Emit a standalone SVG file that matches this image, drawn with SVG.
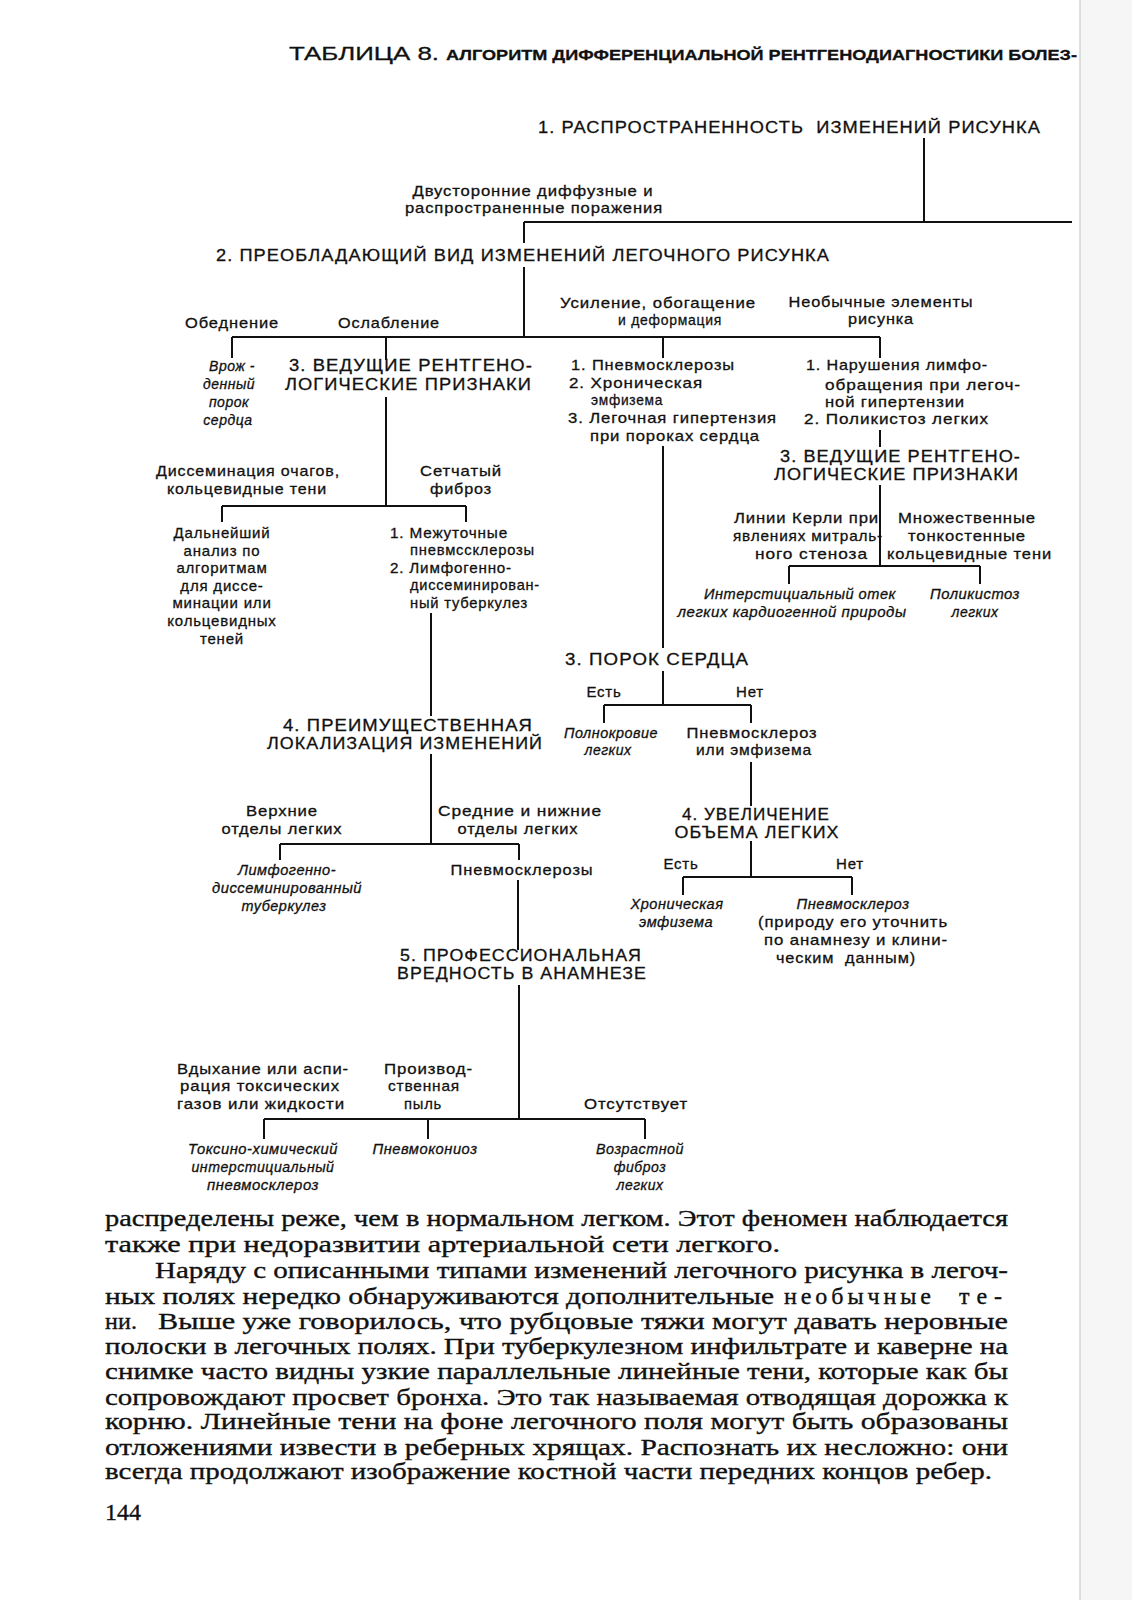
<svg xmlns="http://www.w3.org/2000/svg" width="1132" height="1600" viewBox="0 0 1132 1600">
<style>
text{font-family:"Liberation Sans",Arial,sans-serif;fill:#111;stroke:#111;stroke-width:0.3px;}
.t{font-size:15px;letter-spacing:0.8px;}
.h{font-size:17px;letter-spacing:1px;}
.i{font-size:14px;font-style:italic;letter-spacing:0.5px;}
.m{text-anchor:middle;}
.b{font-family:"Liberation Serif","Times New Roman",serif;font-size:24px;stroke-width:0.35px;}
.c{fill:none;stroke:#111;stroke-width:2;}
</style>
<rect x="0" y="0" width="1132" height="1600" fill="#fff"/>
<rect x="1080" y="0" width="52" height="1600" fill="#f6f6f6"/>
<line x1="1080" y1="0" x2="1080" y2="1600" stroke="#d4d4d4" stroke-width="1.5"/>

<g id="title">
<text x="289" y="60" style="font-size:19px" textLength="150" lengthAdjust="spacingAndGlyphs">ТАБЛИЦА 8.</text>
<text x="446" y="60" style="font-size:15.5px;font-weight:bold" textLength="631" lengthAdjust="spacingAndGlyphs">АЛГОРИТМ ДИФФЕРЕНЦИАЛЬНОЙ РЕНТГЕНОДИАГНОСТИКИ БОЛЕЗ-</text>
</g>

<g id="connectors">
<path class="c" d="M924 138V222M524 222H1072M524 222V243"/>
<path class="c" d="M524 267V337M232 337H880M232 337V358M386 337V360M663 337V358M880 337V358"/>
<path class="c" d="M880 430V447M880 485V566M789 566H980M789 566V584M980 566V584"/>
<path class="c" d="M386 397V506M222 506H466M222 506V522M466 506V522"/>
<path class="c" d="M663 446V648M663 671V705M604 705H751M604 705V723M751 705V723"/>
<path class="c" d="M751 762V806M751 841V877M683 877H852M683 877V895M852 877V895"/>
<path class="c" d="M431 613V716M431 754V844M280 844H519M280 844V860M519 844V860"/>
<path class="c" d="M518 880V950M519 985V1119M264 1119H645M264 1119V1139M428 1119V1139M645 1119V1139"/>
</g>

<g id="n1">
<text class="h" x="538" y="133" textLength="503" lengthAdjust="spacingAndGlyphs">1. РАСПРОСТРАНЕННОСТЬ&#160; ИЗМЕНЕНИЙ РИСУНКА</text>
</g>
<g id="e1">
<text class="t m" x="533" y="196" textLength="241" lengthAdjust="spacingAndGlyphs">Двусторонние диффузные и</text>
<text class="t m" x="534" y="213" textLength="258" lengthAdjust="spacingAndGlyphs">распространенные поражения</text>
</g>
<g id="n2">
<text class="h" x="216" y="261" textLength="614" lengthAdjust="spacingAndGlyphs">2. ПРЕОБЛАДАЮЩИЙ ВИД ИЗМЕНЕНИЙ ЛЕГОЧНОГО РИСУНКА</text>
</g>

<g id="e2">
<text class="t m" x="232" y="328" textLength="94" lengthAdjust="spacingAndGlyphs">Обеднение</text>
<text class="t m" x="389" y="328" textLength="102" lengthAdjust="spacingAndGlyphs">Ослабление</text>
<text class="t m" x="658" y="308" textLength="196" lengthAdjust="spacingAndGlyphs">Усиление, обогащение</text>
<text class="t m" x="670" y="325" textLength="104" lengthAdjust="spacingAndGlyphs">и деформация</text>
<text class="t m" x="881" y="307" textLength="185" lengthAdjust="spacingAndGlyphs">Необычные элементы</text>
<text class="t m" x="881" y="324" textLength="66" lengthAdjust="spacingAndGlyphs">рисунка</text>
</g>

<g id="n-vrozh">
<text class="i m" x="232" y="371">Врож -</text>
<text class="i m" x="229" y="389">денный</text>
<text class="i m" x="229" y="407">порок</text>
<text class="i m" x="228" y="425">сердца</text>
</g>

<g id="n3a">
<text class="h" x="289" y="371" textLength="244" lengthAdjust="spacingAndGlyphs">3. ВЕДУЩИЕ РЕНТГЕНО-</text>
<text class="h" x="285" y="390" textLength="247" lengthAdjust="spacingAndGlyphs">ЛОГИЧЕСКИЕ ПРИЗНАКИ</text>
</g>

<g id="n-list1">
<text class="t" x="571" y="370" textLength="164" lengthAdjust="spacingAndGlyphs">1. Пневмосклерозы</text>
<text class="t" x="569" y="388" textLength="134" lengthAdjust="spacingAndGlyphs">2. Хроническая</text>
<text class="t" x="591" y="405" textLength="72" lengthAdjust="spacingAndGlyphs">эмфизема</text>
<text class="t" x="568" y="423" textLength="209" lengthAdjust="spacingAndGlyphs">3. Легочная гипертензия</text>
<text class="t" x="590" y="441" textLength="170" lengthAdjust="spacingAndGlyphs">при пороках сердца</text>
</g>

<g id="n-list2">
<text class="t" x="806" y="370" textLength="182" lengthAdjust="spacingAndGlyphs">1. Нарушения лимфо-</text>
<text class="t" x="825" y="390" textLength="196" lengthAdjust="spacingAndGlyphs">обращения при легоч-</text>
<text class="t" x="825" y="407" textLength="140" lengthAdjust="spacingAndGlyphs">ной гипертензии</text>
<text class="t" x="804" y="424" textLength="185" lengthAdjust="spacingAndGlyphs">2. Поликистоз легких</text>
</g>

<g id="n3b">
<text class="h" x="780" y="462" textLength="241" lengthAdjust="spacingAndGlyphs">3. ВЕДУЩИЕ РЕНТГЕНО-</text>
<text class="h" x="774" y="480" textLength="245" lengthAdjust="spacingAndGlyphs">ЛОГИЧЕСКИЕ ПРИЗНАКИ</text>
</g>

<g id="e3b">
<text class="t" x="734" y="523" textLength="145" lengthAdjust="spacingAndGlyphs">Линии Керли при</text>
<text class="t" x="733" y="541" textLength="150" lengthAdjust="spacingAndGlyphs">явлениях митраль-</text>
<text class="t" x="755" y="559" textLength="113" lengthAdjust="spacingAndGlyphs">ного стеноза</text>
<text class="t" x="898" y="523" textLength="138" lengthAdjust="spacingAndGlyphs">Множественные</text>
<text class="t" x="908" y="541" textLength="118" lengthAdjust="spacingAndGlyphs">тонкостенные</text>
<text class="t" x="887" y="559" textLength="165" lengthAdjust="spacingAndGlyphs">кольцевидные тени</text>
</g>

<g id="n-edema">
<text class="i m" x="800" y="599" textLength="192" lengthAdjust="spacingAndGlyphs">Интерстициальный отек</text>
<text class="i m" x="792" y="617" textLength="229" lengthAdjust="spacingAndGlyphs">легких кардиогенной природы</text>
</g>
<g id="n-polycyst">
<text class="i m" x="975" y="599" textLength="90" lengthAdjust="spacingAndGlyphs">Поликистоз</text>
<text class="i m" x="975" y="617">легких</text>
</g>

<g id="e3a">
<text class="t m" x="248" y="476" textLength="184" lengthAdjust="spacingAndGlyphs">Диссеминация очагов,</text>
<text class="t m" x="247" y="494" textLength="160" lengthAdjust="spacingAndGlyphs">кольцевидные тени</text>
<text class="t m" x="461" y="476" textLength="82" lengthAdjust="spacingAndGlyphs">Сетчатый</text>
<text class="t m" x="461" y="494" textLength="62" lengthAdjust="spacingAndGlyphs">фиброз</text>
</g>

<g id="n-further">
<text class="t m" x="222" y="538">Дальнейший</text>
<text class="t m" x="222" y="556">анализ по</text>
<text class="t m" x="222" y="573">алгоритмам</text>
<text class="t m" x="222" y="591">для диссе-</text>
<text class="t m" x="222" y="608">минации или</text>
<text class="t m" x="222" y="626">кольцевидных</text>
<text class="t m" x="222" y="644">теней</text>
</g>

<g id="n-list3">
<text class="t" x="390" y="538" textLength="118" lengthAdjust="spacingAndGlyphs">1. Межуточные</text>
<text class="t" x="410" y="555" textLength="125" lengthAdjust="spacingAndGlyphs">пневмссклерозы</text>
<text class="t" x="390" y="573" textLength="122" lengthAdjust="spacingAndGlyphs">2. Лимфогенно-</text>
<text class="t" x="410" y="590" textLength="130" lengthAdjust="spacingAndGlyphs">диссеминирован-</text>
<text class="t" x="410" y="608" textLength="118" lengthAdjust="spacingAndGlyphs">ный туберкулез</text>
</g>

<g id="n4a">
<text class="h m" x="408" y="731" textLength="250" lengthAdjust="spacingAndGlyphs">4. ПРЕИМУЩЕСТВЕННАЯ</text>
<text class="h m" x="405" y="749" textLength="276" lengthAdjust="spacingAndGlyphs">ЛОКАЛИЗАЦИЯ ИЗМЕНЕНИЙ</text>
</g>
<g id="e4a">
<text class="t m" x="282" y="816" textLength="72" lengthAdjust="spacingAndGlyphs">Верхние</text>
<text class="t m" x="282" y="834" textLength="121" lengthAdjust="spacingAndGlyphs">отделы легких</text>
<text class="t m" x="520" y="816" textLength="164" lengthAdjust="spacingAndGlyphs">Средние и нижние</text>
<text class="t m" x="518" y="834" textLength="121" lengthAdjust="spacingAndGlyphs">отделы легких</text>
</g>
<g id="n-lymph">
<text class="i m" x="287" y="875" textLength="98" lengthAdjust="spacingAndGlyphs">Лимфогенно-</text>
<text class="i m" x="287" y="893" textLength="150" lengthAdjust="spacingAndGlyphs">диссеминированный</text>
<text class="i m" x="284" y="911" textLength="85" lengthAdjust="spacingAndGlyphs">туберкулез</text>
</g>
<g id="n-pneumo">
<text class="t m" x="522" y="875" textLength="143" lengthAdjust="spacingAndGlyphs">Пневмосклерозы</text>
</g>

<g id="n5">
<text class="h m" x="521" y="961" textLength="242" lengthAdjust="spacingAndGlyphs">5. ПРОФЕССИОНАЛЬНАЯ</text>
<text class="h m" x="522" y="979" textLength="250" lengthAdjust="spacingAndGlyphs">ВРЕДНОСТЬ В АНАМНЕЗЕ</text>
</g>
<g id="e5">
<text class="t m" x="263" y="1074" textLength="172" lengthAdjust="spacingAndGlyphs">Вдыхание или аспи-</text>
<text class="t m" x="260" y="1091" textLength="160" lengthAdjust="spacingAndGlyphs">рация токсических</text>
<text class="t m" x="261" y="1109" textLength="168" lengthAdjust="spacingAndGlyphs">газов или жидкости</text>
<text class="t" x="384" y="1074" textLength="89" lengthAdjust="spacingAndGlyphs">Производ-</text>
<text class="t" x="388" y="1091" textLength="72" lengthAdjust="spacingAndGlyphs">ственная</text>
<text class="t" x="404" y="1109" textLength="38" lengthAdjust="spacingAndGlyphs">пыль</text>
<text class="t m" x="636" y="1109" textLength="104" lengthAdjust="spacingAndGlyphs">Отсутствует</text>
</g>
<g id="n-toxic">
<text class="i m" x="263" y="1154" textLength="150" lengthAdjust="spacingAndGlyphs">Токсино-химический</text>
<text class="i m" x="263" y="1172" textLength="143" lengthAdjust="spacingAndGlyphs">интерстициальный</text>
<text class="i m" x="263" y="1190" textLength="112" lengthAdjust="spacingAndGlyphs">пневмосклероз</text>
</g>
<g id="n-coniosis">
<text class="i m" x="425" y="1154" textLength="105" lengthAdjust="spacingAndGlyphs">Пневмокониоз</text>
</g>
<g id="n-age">
<text class="i m" x="640" y="1154" textLength="88" lengthAdjust="spacingAndGlyphs">Возрастной</text>
<text class="i m" x="640" y="1172">фиброз</text>
<text class="i m" x="640" y="1190">легких</text>
</g>

<g id="n3c">
<text class="h" x="565" y="665" textLength="184" lengthAdjust="spacingAndGlyphs">3. ПОРОК СЕРДЦА</text>
</g>
<g id="e3c">
<text class="t m" x="604" y="697">Есть</text>
<text class="t m" x="750" y="697">Нет</text>
</g>
<g id="n-plethora">
<text class="i m" x="611" y="738" textLength="94" lengthAdjust="spacingAndGlyphs">Полнокровие</text>
<text class="i m" x="608" y="755">легких</text>
</g>
<g id="n-pe">
<text class="t m" x="752" y="738" textLength="131" lengthAdjust="spacingAndGlyphs">Пневмосклероз</text>
<text class="t m" x="754" y="755" textLength="116" lengthAdjust="spacingAndGlyphs">или эмфизема</text>
</g>
<g id="n4b">
<text class="h m" x="756" y="820" textLength="148" lengthAdjust="spacingAndGlyphs">4. УВЕЛИЧЕНИЕ</text>
<text class="h m" x="757" y="838" textLength="165" lengthAdjust="spacingAndGlyphs">ОБЪЕМА ЛЕГКИХ</text>
</g>
<g id="e4b">
<text class="t m" x="681" y="869">Есть</text>
<text class="t m" x="850" y="869">Нет</text>
</g>
<g id="n-emph">
<text class="i m" x="677" y="909" textLength="93" lengthAdjust="spacingAndGlyphs">Хроническая</text>
<text class="i m" x="676" y="927" textLength="74" lengthAdjust="spacingAndGlyphs">эмфизема</text>
</g>
<g id="n-pscl">
<text class="i m" x="853" y="909" textLength="113" lengthAdjust="spacingAndGlyphs">Пневмосклероз</text>
<text class="t m" x="853" y="927" textLength="190" lengthAdjust="spacingAndGlyphs">(природу его уточнить</text>
<text class="t m" x="856" y="945" textLength="184" lengthAdjust="spacingAndGlyphs">по анамнезу и клини-</text>
<text class="t m" x="846" y="963" textLength="140" lengthAdjust="spacingAndGlyphs">ческим&#160; данным)</text>
</g>

<g id="body">
<text class="b" x="105" y="1226" textLength="903" lengthAdjust="spacingAndGlyphs">распределены реже, чем в нормальном легком. Этот феномен наблюдается</text>
<text class="b" x="105" y="1251.5" textLength="675" lengthAdjust="spacingAndGlyphs">также при недоразвитии артериальной сети легкого.</text>
<text class="b" x="155" y="1278" textLength="853" lengthAdjust="spacingAndGlyphs">Наряду с описанными типами изменений легочного рисунка в легоч-</text>
<text class="b" x="105" y="1303.5" textLength="669" lengthAdjust="spacingAndGlyphs">ных полях нередко обнаруживаются дополнительные</text>
<text class="b" x="784" y="1303.5" textLength="153" lengthAdjust="spacing" style="letter-spacing:6px">необычные</text>
<text class="b" x="959" y="1303.5" textLength="49" lengthAdjust="spacing" style="letter-spacing:6px">те-</text>
<text class="b" x="105" y="1329" textLength="38" lengthAdjust="spacing" style="letter-spacing:6px">ни.</text>
<text class="b" x="158" y="1329" textLength="850" lengthAdjust="spacingAndGlyphs">Выше уже говорилось, что рубцовые тяжи могут давать неровные</text>
<text class="b" x="105" y="1353.5" textLength="903" lengthAdjust="spacingAndGlyphs">полоски в легочных полях. При туберкулезном инфильтрате и каверне на</text>
<text class="b" x="105" y="1379" textLength="903" lengthAdjust="spacingAndGlyphs">снимке часто видны узкие параллельные линейные тени, которые как бы</text>
<text class="b" x="105" y="1404.5" textLength="903" lengthAdjust="spacingAndGlyphs">сопровождают просвет бронха. Это так называемая отводящая дорожка к</text>
<text class="b" x="105" y="1429" textLength="903" lengthAdjust="spacingAndGlyphs">корню. Линейные тени на фоне легочного поля могут быть образованы</text>
<text class="b" x="105" y="1454.5" textLength="903" lengthAdjust="spacingAndGlyphs">отложениями извести в реберных хрящах. Распознать их несложно: они</text>
<text class="b" x="105" y="1479" textLength="887" lengthAdjust="spacingAndGlyphs">всегда продолжают изображение костной части передних концов ребер.</text>
<text class="b" x="105" y="1520">144</text>
</g>
</svg>
